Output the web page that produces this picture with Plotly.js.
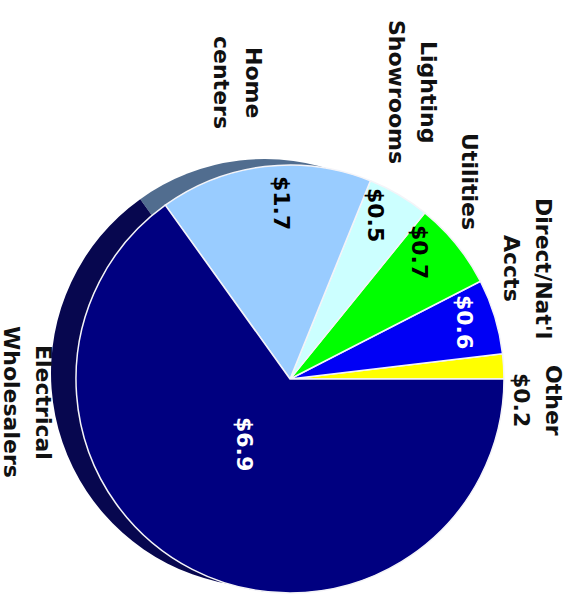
<!DOCTYPE html>
<html>
<head>
<meta charset="utf-8">
<script src="https://cdn.plot.ly/plotly-3.0.1.min.js"></script>
<style>html,body{margin:0;padding:0;background:#fff;}#chart{width:576px;height:602px;}</style>
</head>
<body>
<div id="chart"></div>
<script>
// ---- data ----
const categories = ["Other", "Direct/Nat'l Accts", "Utilities", "Lighting Showrooms", "Home centers", "Electrical Wholesalers"];
const values = [0.2, 0.6, 0.7, 0.5, 1.7, 6.9];
const labelLines = [["Other", "$0.2"], ["Direct/Nat'l", "Accts"], ["Utilities"], ["Lighting", "Showrooms"], ["Home", "centers"], ["Electrical", "Wholesalers"]];
const showInside = [false, true, true, true, true, true];

// ---- style ----
const W = 576, H = 602;
const colors = ['#ffff00', '#0000f5', '#00ff00', '#ccffff', '#99ccff', '#000080'];
const shadowColors = ['#7a7a00', '#00006a', '#007a00', '#6a8a8a', '#516d8f', '#07074f'];
const insideColors = ['#000', '#fff', '#000', '#000', '#000', '#fff'];
const pie = {cx: 290, cy: 379, r: 214};
const shadowOffset = {dx: -25, dy: -6};
// text placement (pixels)
const outsidePos = [[538, 400], [528, 268], [470, 181], [413, 92], [238, 82], [28, 402]];
const insidePos = [null, [464, 322], [420, 252], [376, 215], [281, 203], [244, 444]];
const lineSpacing = 32;
const font = {family: 'DejaVu Sans, Verdana, sans-serif', size: 22, color: '#111'};

function domainFor(cx, cy, r) {
  return {x: [(cx - r) / W, (cx + r) / W], y: [(H - cy - r) / H, (H - cy + r) / H]};
}

// first slice begins at 3 o'clock and slices run counterclockwise
const total = values.reduce((a, b) => a + b, 0);
const rotation = 90 - 360 * values[0] / total;

const common = {
  type: 'pie', labels: categories, values: values, sort: false,
  direction: 'counterclockwise', rotation: rotation, textinfo: 'none',
  hoverinfo: 'none', showlegend: false
};

const shadow = Object.assign({}, common, {
  domain: domainFor(pie.cx + shadowOffset.dx, pie.cy + shadowOffset.dy, pie.r),
  marker: {colors: shadowColors, line: {width: 0}}
});
const main = Object.assign({}, common, {
  domain: domainFor(pie.cx, pie.cy, pie.r),
  marker: {colors: colors, line: {color: '#f4f4f8', width: 1.5}}
});

const annotations = [];
categories.forEach((c, i) => {
  const lines = labelLines[i];
  const n = lines.length;
  lines.forEach((t, j) => {
    const px = outsidePos[i][0] + ((n - 1) / 2 - j) * lineSpacing;
    annotations.push({
      xref: 'paper', yref: 'paper', x: px / W, y: 1 - outsidePos[i][1] / H,
      xanchor: 'center', yanchor: 'middle', showarrow: false, textangle: 90,
      text: '<b>' + t + '</b>', font: font
    });
  });
  if (showInside[i]) {
    annotations.push({
      xref: 'paper', yref: 'paper', x: insidePos[i][0] / W, y: 1 - insidePos[i][1] / H,
      xanchor: 'center', yanchor: 'middle', showarrow: false, textangle: 90,
      text: '<b>$' + values[i].toFixed(1) + '</b>',
      font: Object.assign({}, font, {color: insideColors[i]})
    });
  }
});

Plotly.newPlot('chart', [shadow, main], {
  width: W, height: H,
  margin: {l: 0, r: 0, t: 0, b: 0},
  paper_bgcolor: '#ffffff',
  annotations: annotations
}, {staticPlot: true});
</script>
</body>
</html>
